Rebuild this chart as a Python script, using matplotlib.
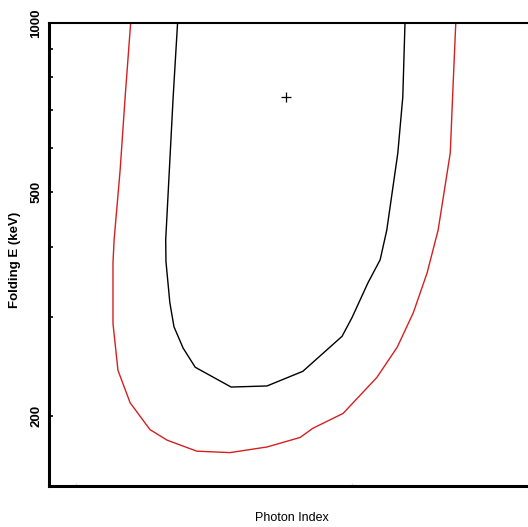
import matplotlib
matplotlib.use("Agg")
import matplotlib.pyplot as plt
from matplotlib.ticker import FixedLocator, NullFormatter

# Inner (black) confidence contour: photon index, folding energy (keV)
inner_index = [1.184, 1.176, 1.1625, 1.163, 1.170, 1.1775, 1.194, 1.216, 1.281, 1.346,
               1.411, 1.482, 1.500, 1.529, 1.551, 1.563, 1.583, 1.592, 1.596]
inner_efold = [1000, 738, 411, 376, 318, 288, 264, 244, 225, 226,
               240, 277, 299, 345, 379, 428, 587, 738, 1000]

# Outer (red) confidence contour
outer_index = [1.099, 1.089, 1.080, 1.069, 1.067, 1.067, 1.076, 1.098, 1.134, 1.165,
               1.219, 1.279, 1.346, 1.406, 1.429, 1.484, 1.545, 1.582, 1.611, 1.636,
               1.656, 1.678, 1.683, 1.688]
outer_efold = [1000, 738, 548, 411, 374, 292, 241, 211, 189, 181,
               173, 172, 176, 183, 190, 202, 234, 265, 305, 359,
               428, 587, 770, 1000]

# Best fit
best_index = [1.380]
best_efold = [738]

y_major = [200, 500, 1000]
y_major_labels = ["200", "500", "1000"]
y_minor = [300, 400, 600, 700, 800, 900]
x_ticks = [1.0, 1.5]

W, H = 528, 527
fig = plt.figure(figsize=(W / 100, H / 100), dpi=100)
left, right, top, bottom = 49, 560, 23, 486
ax = fig.add_axes([left / W, (H - bottom) / H, (right - left) / W, (bottom - top) / H])

ax.plot(inner_index, inner_efold, color="black", lw=1.0, clip_on=True)
ax.plot(outer_index, outer_efold, color="#d42020", lw=1.0, clip_on=True)
ax.plot(best_index, best_efold, marker="+", color="black", ms=7, mew=0.9, ls="none")

ax.set_yscale("log")
ax.set_ylim(150, 1000)
ax.set_xlim(1.0 + (left - 76) / 552, 1.0 + (right - 76) / 552)

ax.yaxis.set_major_locator(FixedLocator(y_major))
ax.set_yticklabels(y_major_labels, rotation=90, va="center",
                   family="Liberation Sans", fontsize=9.5, fontweight="bold")
ax.yaxis.set_minor_locator(FixedLocator(y_minor))
ax.yaxis.set_minor_formatter(NullFormatter())
ax.tick_params(axis="y", which="both", direction="in", length=3, width=1.2, pad=5)

ax.set_xticks(x_ticks)
ax.set_xticklabels([])
ax.tick_params(axis="x", which="both", direction="in", length=2, width=1, color="#dddddd")

for s in ["left", "bottom"]:
    ax.spines[s].set_linewidth(2.2)
ax.spines["top"].set_linewidth(1.5)
ax.spines["right"].set_visible(False)

fig.text(15 / W, 1 - 260 / H, "Folding E (keV)", rotation=90, ha="center", va="center",
         family="Liberation Sans", fontsize=9.5, fontweight="bold")
fig.text(292 / W, 1 - 518 / H, "Photon Index", ha="center", va="center",
         family="Liberation Sans", fontsize=9)

fig.savefig("out.png", dpi=100)
